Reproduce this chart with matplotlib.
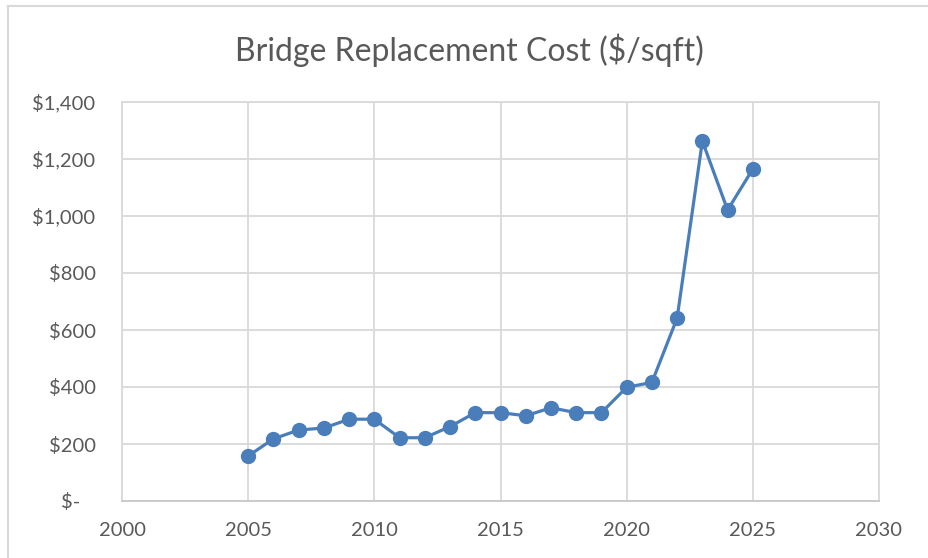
import matplotlib
matplotlib.use("Agg")
from matplotlib import pyplot as plt
from matplotlib.lines import Line2D
from matplotlib.ticker import FuncFormatter

years = list(range(2005, 2026))
cost = [158, 218, 249, 256, 287, 287, 222, 222, 261, 310, 310,
        299, 327, 310, 310, 399, 416, 642, 1263, 1021, 1165]

x_ticks = [2000, 2005, 2010, 2015, 2020, 2025, 2030]
y_ticks = [0, 200, 400, 600, 800, 1000, 1200, 1400]

GRID = "#d9d9d9"
TEXT = "#595959"
BLUE = "#4a7ebb"

plt.rcParams["font.family"] = ["Lato", "DejaVu Sans"]

fig = plt.figure(figsize=(9.29, 5.58), dpi=100)
ax = fig.add_axes([122 / 929, 57 / 558, 757 / 929, 399 / 558])

ax.plot(years, cost, color=BLUE, linewidth=2.3, marker="o",
        markersize=10, markerfacecolor=BLUE, markeredgecolor=BLUE,
        zorder=3)

ax.set_xlim(2000, 2030)
ax.set_ylim(0, 1400)
ax.set_xticks(x_ticks)
ax.set_yticks(y_ticks)


def money(v, pos):
    if v == 0:
        return "$-   "
    return "${:,.0f}".format(v)


ax.yaxis.set_major_formatter(FuncFormatter(money))
ax.grid(True, color=GRID, linewidth=1.3)
ax.set_axisbelow(True)
for s in ax.spines.values():
    s.set_color(GRID)
    s.set_linewidth(1.3)
ax.spines["bottom"].set_color("#c8c8c8")
ax.tick_params(length=0, labelsize=14.5, colors=TEXT)
ax.tick_params(axis="y", pad=19)
ax.tick_params(axis="x", pad=15)

fig.text(469 / 929, 1 - 50 / 558, "Bridge Replacement Cost ($/sqft)",
         ha="center", va="center", fontsize=23, color=TEXT)

# outer chart frame
fig.add_artist(Line2D([8 / 929, 8 / 929], [0, 1 - 6 / 558],
                      transform=fig.transFigure, color=GRID, linewidth=1.5))
fig.add_artist(Line2D([8 / 929, 1], [1 - 6 / 558, 1 - 6 / 558],
                      transform=fig.transFigure, color=GRID, linewidth=1.5))

fig.savefig("out.png", dpi=100)
